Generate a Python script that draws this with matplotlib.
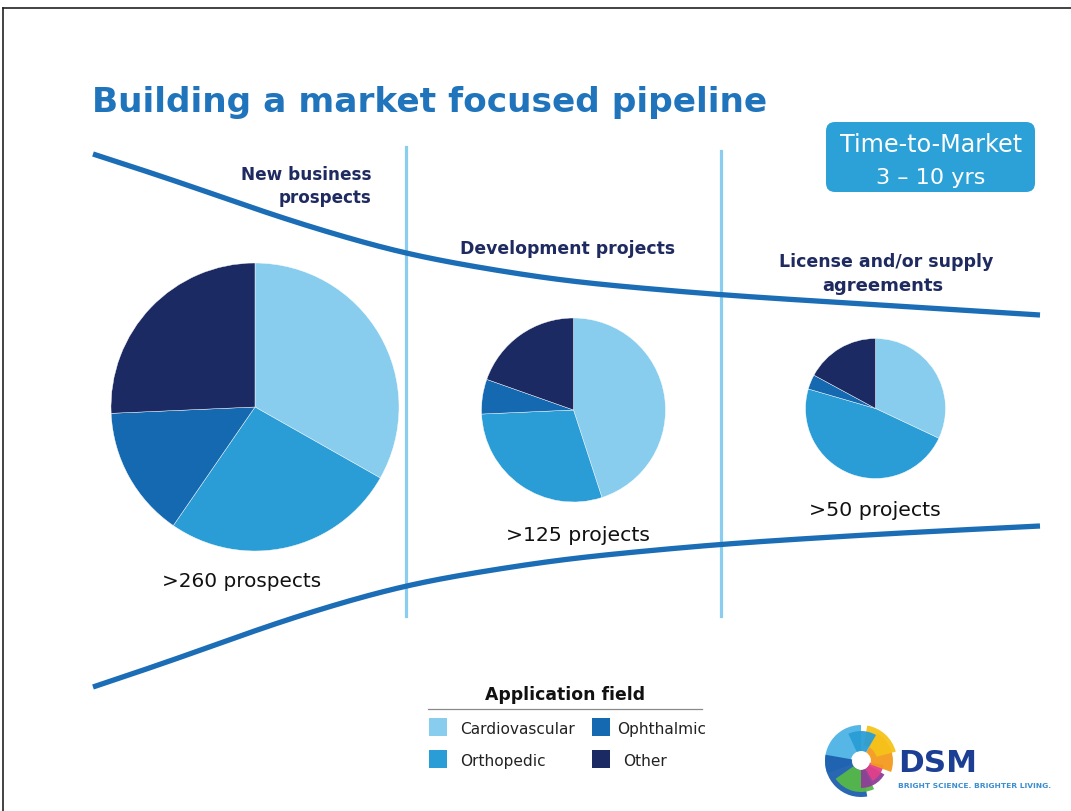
import numpy as np
import matplotlib
matplotlib.use("Agg")
import matplotlib.pyplot as plt
from matplotlib.patches import FancyBboxPatch, Rectangle, Wedge

# ---------------- data ----------------
title = "Building a market focused pipeline"
stages = ["New business\nprospects", "Development projects", "License and/or supply\nagreements"]
counts = [">260 prospects", ">125 projects", ">50 projects"]
fields = ["Cardiovascular", "Orthopedic", "Ophthalmic", "Other"]
field_colors = ["#88CDED", "#2A9DD6", "#1569B1", "#1B2A63"]
share_new = [33.2, 26.4, 14.7, 25.7]
share_dev = [45.0, 29.3, 6.1, 19.6]
share_lic = [32.0, 47.5, 3.4, 17.1]
ttm_text = ["Time-to-Market", "3 – 10 yrs"]
legend_title = "Application field"

# ---------------- layout ----------------
W, H = 1071, 812
fig = plt.figure(figsize=(W / 100, H / 100), dpi=100)
ax = fig.add_axes([0, 0, 1, 1])
Y = lambda y: H - y

TITLE_C = "#1F74BC"
NAVY = "#1E2A60"
CURVE_C = "#1B6DB6"
VLINE_C = "#8ACDEE"
BOX_C = "#2CA1D8"

# pies
pie_specs = [(share_new, 255, 408, 144), (share_dev, 573.5, 411, 92), (share_lic, 875.5, 409.5, 70)]
for shares, cx, cy, r in pie_specs:
    ax.pie(shares, colors=field_colors, startangle=90, counterclock=False,
           center=(cx, Y(cy)), radius=r, frame=True,
           wedgeprops=dict(edgecolor="white", linewidth=0.3))


def smooth_curve(xk, yk, sigma=45.0):
    xs = np.arange(xk[0], xk[-1] + 1, 1.0)
    ys = np.interp(xs, xk, yk)
    pad = int(4 * sigma)
    left = 2 * ys[0] - ys[pad:0:-1]
    right = 2 * ys[-1] - ys[-2:-pad - 2:-1]
    yp = np.concatenate([left, ys, right])
    k = np.arange(-pad, pad + 1)
    g = np.exp(-0.5 * (k / sigma) ** 2)
    g /= g.sum()
    ysm = np.convolve(yp, g, mode="same")[pad:pad + len(ys)]
    return xs, ysm


top_x = [93, 180, 280, 405, 560, 720, 880, 1040]
top_y = [155, 183, 219, 256, 282, 296, 306, 316]
bot_x = [93, 180, 280, 405, 560, 720, 880, 1040]
bot_y = [688, 659, 622, 585, 560, 545, 535, 527]
for kx, ky in ((top_x, top_y), (bot_x, bot_y)):
    cx_, cy_ = smooth_curve(kx, ky)
    ax.plot(cx_, Y(cy_), color=CURVE_C, lw=3.8, solid_capstyle="butt", zorder=3)

# vertical separators
ax.plot([406, 406], [Y(148), Y(617)], color=VLINE_C, lw=2.3, zorder=2)
ax.plot([721, 721], [Y(152), Y(617)], color=VLINE_C, lw=2.3, zorder=2)

# frame lines
ax.plot([3, W], [Y(9), Y(9)], color="#222222", lw=1.2)
ax.plot([3, 3], [Y(9), Y(H)], color="#222222", lw=1.2)

# time-to-market box
ax.add_patch(FancyBboxPatch((826, Y(193)), 1035 - 826, 193 - 123,
                            boxstyle="round,pad=0,rounding_size=9", fc=BOX_C, ec="none", zorder=4))

fig.canvas.draw()
R = fig.canvas.get_renderer()


def fit(t, w):
    bb = t.get_window_extent(R)
    t.set_fontsize(t.get_fontsize() * w / bb.width)
    return t


def put(x, y, s, w, ha="left", **kw):
    t = ax.text(x, Y(y), s, ha=ha, va="baseline", fontsize=14, **kw)
    return fit(t, w)


put(92, 112, title, 678, color=TITLE_C, fontweight="bold")

# stage labels
l1, l2 = stages[0].split("\n")
put(371, 180, l1, 131, ha="right", color=NAVY, fontweight="bold")
put(371, 203, l2, 93, ha="right", color=NAVY, fontweight="bold")
put(568, 254, stages[1], 216, ha="center", color=NAVY, fontweight="bold")
l1, l2 = stages[2].split("\n")
put(886, 267, l1, 214, ha="center", color=NAVY, fontweight="bold")
put(883, 291, l2, 122, ha="center", color=NAVY, fontweight="bold")

# box text
put(931, 152, ttm_text[0], 183, ha="center", color="white", zorder=5)
put(931, 184, ttm_text[1], 110, ha="center", color="white", zorder=5)

# count labels
put(242, 587, counts[0], 159, ha="center", color="#111111")
put(578, 541, counts[1], 145, ha="center", color="#111111")
put(875, 516, counts[2], 132, ha="center", color="#111111")

# legend
put(565, 700, legend_title, 160, ha="center", color="#111111", fontweight="bold")
ax.plot([428, 702], [Y(709.5), Y(709.5)], color="#8A8A8A", lw=0.9)
leg_pos = [(429, 719, 460, 734), (429, 751, 460, 766), (592, 719, 617, 734), (592, 751, 623, 766)]
t0 = ax.text(0, 0, fields[0], fontsize=14)
fit(t0, 115)
fs = t0.get_fontsize()
t0.remove()
for name, col, (sx, sy, tx, ty) in zip(fields, field_colors, leg_pos):
    ax.add_patch(Rectangle((sx, Y(sy + 17.5)), 18, 17.5, fc=col, ec="none"))
    ax.text(tx, Y(ty), name, fontsize=fs, color="#222222", va="baseline")

# DSM logo (approximate)
lc = (861, Y(762))
logo = [(90, 200, 36, 26, "#4DB3E6"), (170, 280, 36, 27, "#1D5FAE"), (215, 295, 31, 22, "#56B847"),
        (270, 330, 27, 18, "#8E3E97"), (300, 350, 23, 14, "#E0408A"), (340, 420, 32, 22, "#F39A1E"),
        (15, 80, 36, 20, "#F6C21A"), (60, 115, 30, 20, "#2A9DD6")]
for a0, a1, rr, ww, col in logo:
    ax.add_patch(Wedge(lc, rr, a0, a1, width=ww, fc=col, ec="none", alpha=0.95))
put(898, 772, "DSM", 79, color="#1C3F94", fontweight="bold")
put(898, 788, "BRIGHT SCIENCE. BRIGHTER LIVING.", 152, color="#3A8DD0", fontweight="bold")

ax.set_xlim(0, W)
ax.set_ylim(0, H)
ax.set_aspect("equal")
ax.axis("off")
fig.savefig("out.png", dpi=100, facecolor="white")
